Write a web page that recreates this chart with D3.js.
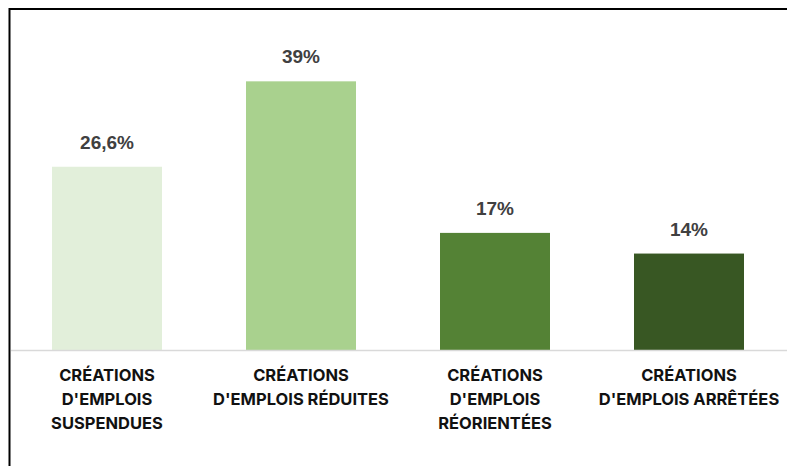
<!DOCTYPE html>
<html>
<head>
<meta charset="utf-8">
<script src="https://cdn.jsdelivr.net/npm/d3@7"></script>
<style>
  body { margin: 0; background: #fff; }
</style>
</head>
<body>
<div id="chart"></div>
<script>
const categories = [
  ['CRÉATIONS', "D'EMPLOIS", 'SUSPENDUES'],
  ['CRÉATIONS', "D'EMPLOIS RÉDUITES"],
  ['CRÉATIONS', "D'EMPLOIS", 'RÉORIENTÉES'],
  ['CRÉATIONS', "D'EMPLOIS ARRÊTÉES"]
];
const values = [26.6, 39, 17, 14];
const colors = ['#E2EFDA', '#A9D18E', '#548235', '#385723'];

const width = 787;
const height = 466;
const baseY = 350;

const svg = d3.select('#chart')
  .append('svg')
    .attr('width', width)
    .attr('height', height);

// frame (only top and left edges visible)
svg.append('line')
  .attr('x1', 9).attr('x2', width)
  .attr('y1', 9).attr('y2', 9)
  .attr('stroke', '#000').attr('stroke-width', 2);
svg.append('line')
  .attr('x1', 9.5).attr('x2', 9.5)
  .attr('y1', 8).attr('y2', height)
  .attr('stroke', '#000').attr('stroke-width', 2);

const x = d3.scaleBand()
  .domain(d3.range(values.length))
  .range([10, 786])
  .paddingInner(0.433)
  .paddingOuter(0.2165);

const y = d3.scaleLinear()
  .domain([0, 45])
  .range([baseY, 40]);

svg.selectAll('rect.bar')
  .data(values)
  .enter()
  .append('rect')
    .attr('class', 'bar')
    .attr('x', (d, i) => x(i))
    .attr('y', d => y(d))
    .attr('width', x.bandwidth())
    .attr('height', d => y(0) - y(d))
    .attr('fill', (d, i) => colors[i]);

// baseline
svg.append('line')
  .attr('x1', 11).attr('x2', width)
  .attr('y1', baseY + 0.5).attr('y2', baseY + 0.5)
  .attr('stroke', '#d9d9d9').attr('stroke-width', 1.5);

const fmt = d => String(d).replace('.', ',') + '%';

svg.selectAll('text.val')
  .data(values)
  .enter()
  .append('text')
    .attr('class', 'val')
    .attr('x', (d, i) => x(i) + x.bandwidth() / 2)
    .attr('y', d => y(d) - 18)
    .attr('text-anchor', 'middle')
    .style('font-family', 'Liberation Sans, Arial, sans-serif')
    .style('font-weight', 'bold')
    .style('font-size', '19px')
    .style('fill', '#404040')
    .text(fmt);

const labels = svg.selectAll('text.cat')
  .data(categories)
  .enter()
  .append('text')
    .attr('class', 'cat')
    .attr('text-anchor', 'middle')
    .style('font-family', 'Inter, sans-serif')
    .style('font-weight', 'bold')
    .style('font-size', '16.5px')
    .style('fill', '#111');

labels.each(function(lines, i) {
  const cx = x(i) + x.bandwidth() / 2;
  d3.select(this).selectAll('tspan')
    .data(lines)
    .enter()
    .append('tspan')
      .attr('x', cx)
      .attr('y', (d, j) => 381 + j * 24)
      .text(d => d);
});
</script>
</body>
</html>
